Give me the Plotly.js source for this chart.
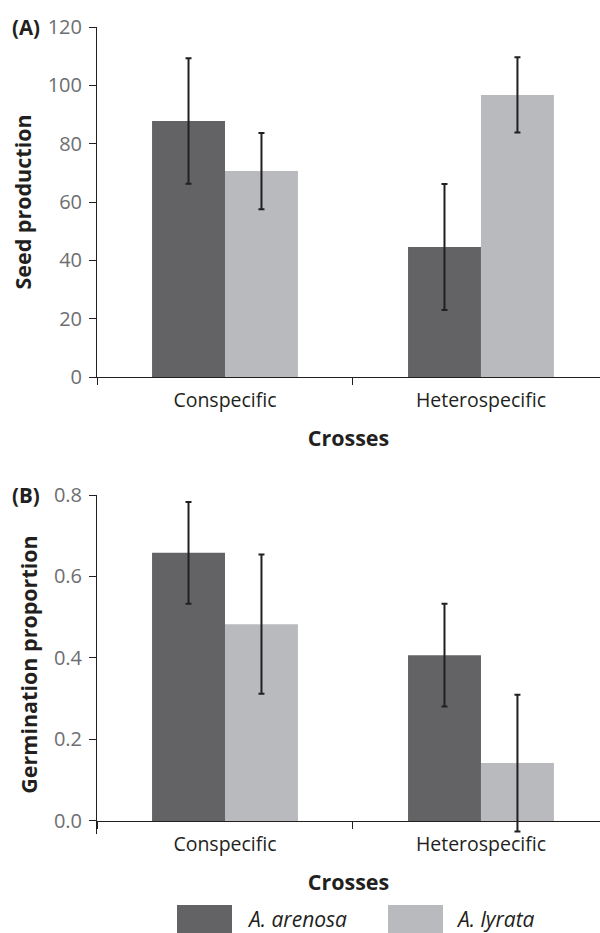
<!DOCTYPE html>
<html>
<head>
<meta charset="utf-8">
<script src="https://cdn.plot.ly/plotly-3.0.1.min.js"></script>
<style>html,body{margin:0;padding:0;background:#fff;}#chart{width:600px;height:933px;}</style>
</head>
<body>
<div id="chart"></div>
<script>
// ---- data ----
var categories = ['Conspecific', 'Heterospecific'];
var seriesNames = ['A. arenosa', 'A. lyrata'];
var seedArenosa = [87.8, 44.6];
var seedArenosaErr = [21.5, 21.6];
var seedLyrata = [70.6, 96.7];
var seedLyrataErr = [13.1, 12.9];
var germArenosa = [0.658, 0.407];
var germArenosaErr = [0.125, 0.126];
var germLyrata = [0.483, 0.142];
var germLyrataErr = [0.171, 0.168];
var seedTicks = [0, 20, 40, 60, 80, 100, 120];
var germTicks = [0, 0.2, 0.4, 0.6, 0.8];

// ---- style ----
var darkColor = '#636365';
var lightColor = '#b9babd';
var inkColor = '#231f20';
var tickGray = '#6d6e71';
var FONT = 'Open Sans, Noto Sans, sans-serif';
var W = 600, H = 933;

function frac(px) { return 1 - px / H; }
var domA = [frac(377), frac(27)];
var domB = [frac(834), frac(495)];
var yRangeA = [0, 120];
var yRangeB = [-0.032, 0.8];
var xRange = [-0.5, 1.465];
var posB = domB[0] + (0 - yRangeB[0]) / (yRangeB[1] - yRangeB[0]) * (domB[1] - domB[0]);

function err(arr) {
  return {type: 'data', array: arr, visible: true, color: inkColor, thickness: 2, width: 3};
}
function bar(y, e, color, name, xa, ya) {
  return {type: 'bar', x: categories, y: y, error_y: err(e), name: name,
    marker: {color: color, line: {width: 0}}, xaxis: xa, yaxis: ya, showlegend: false, hoverinfo: 'skip'};
}

var data = [
  bar(seedArenosa, seedArenosaErr, darkColor, seriesNames[0], 'x', 'y'),
  bar(seedLyrata, seedLyrataErr, lightColor, seriesNames[1], 'x', 'y'),
  bar(germArenosa, germArenosaErr, darkColor, seriesNames[0], 'x2', 'y2'),
  bar(germLyrata, germLyrataErr, lightColor, seriesNames[1], 'x2', 'y2')
];

function xAxis(extra) {
  var a = {
    type: 'category', range: xRange, fixedrange: true,
    showline: true, linecolor: inkColor, linewidth: 1,
    ticks: 'outside', tickson: 'boundaries', ticklen: 7, tickcolor: inkColor, tickwidth: 1,
    ticklabelstandoff: 6,
    tickfont: {family: FONT, size: 19.5, color: inkColor},
    showgrid: false, zeroline: false,
    title: {text: '<b>Crosses</b>', font: {family: FONT, size: 21.5, color: inkColor}, standoff: 18}
  };
  for (var k in extra) a[k] = extra[k];
  return a;
}
function yAxis(extra) {
  var a = {
    fixedrange: true, showline: true, linecolor: inkColor, linewidth: 1,
    ticks: 'outside', ticklen: 7, tickcolor: inkColor, tickwidth: 1,
    ticklabelstandoff: 3,
    tickfont: {family: FONT, size: 20, color: tickGray},
    showgrid: false, zeroline: false, tickmode: 'array'
  };
  for (var k in extra) a[k] = extra[k];
  return a;
}

var layout = {
  width: W, height: H,
  margin: {l: 97, r: 0, t: 0, b: 0},
  paper_bgcolor: '#fff', plot_bgcolor: 'rgba(0,0,0,0)',
  barmode: 'group', bargap: 0.43, bargroupgap: 0,
  showlegend: false,
  font: {family: FONT, color: inkColor},
  xaxis: xAxis({domain: [0, 1], anchor: 'y'}),
  yaxis: yAxis({domain: domA, range: yRangeA, tickvals: seedTicks, anchor: 'x',
    title: {text: '<b>Seed production</b>', font: {family: FONT, size: 21.5, color: inkColor}, standoff: 10}}),
  xaxis2: xAxis({domain: [0, 1], anchor: 'free', position: posB}),
  yaxis2: yAxis({domain: domB, range: yRangeB, tickvals: germTicks, tickformat: '.1f', anchor: 'x2',
    title: {text: '<b>Germination proportion</b>', font: {family: FONT, size: 21.5, color: inkColor}, standoff: 10}}),
  annotations: [
    {xref: 'paper', yref: 'paper', x: -97 / 503 + 10 / 503, y: frac(27), xanchor: 'left', yanchor: 'middle',
      text: '<b>(A)</b>', showarrow: false, font: {family: FONT, size: 20.5, color: inkColor}},
    {xref: 'paper', yref: 'paper', x: -97 / 503 + 10 / 503, y: frac(495), xanchor: 'left', yanchor: 'middle',
      text: '<b>(B)</b>', showarrow: false, font: {family: FONT, size: 20.5, color: inkColor}},
    {xref: 'paper', yref: 'paper', x: (245 - 97) / 503, y: frac(919), xanchor: 'left', yanchor: 'middle',
      text: '<i>' + seriesNames[0] + '</i>', showarrow: false, font: {family: FONT, size: 21, color: inkColor}},
    {xref: 'paper', yref: 'paper', x: (454 - 97) / 503, y: frac(919), xanchor: 'left', yanchor: 'middle',
      text: '<i>' + seriesNames[1] + '</i>', showarrow: false, font: {family: FONT, size: 21, color: inkColor}}
  ],
  shapes: [
    {type: 'rect', xref: 'paper', yref: 'paper', x0: (177 - 97) / 503, x1: (232 - 97) / 503,
      y0: frac(933), y1: frac(905), fillcolor: darkColor, line: {width: 0}},
    {type: 'rect', xref: 'paper', yref: 'paper', x0: (388 - 97) / 503, x1: (443 - 97) / 503,
      y0: frac(933), y1: frac(905), fillcolor: lightColor, line: {width: 0}}
  ]
};

Plotly.newPlot('chart', data, layout, {staticPlot: true, displayModeBar: false});
</script>
</body>
</html>
